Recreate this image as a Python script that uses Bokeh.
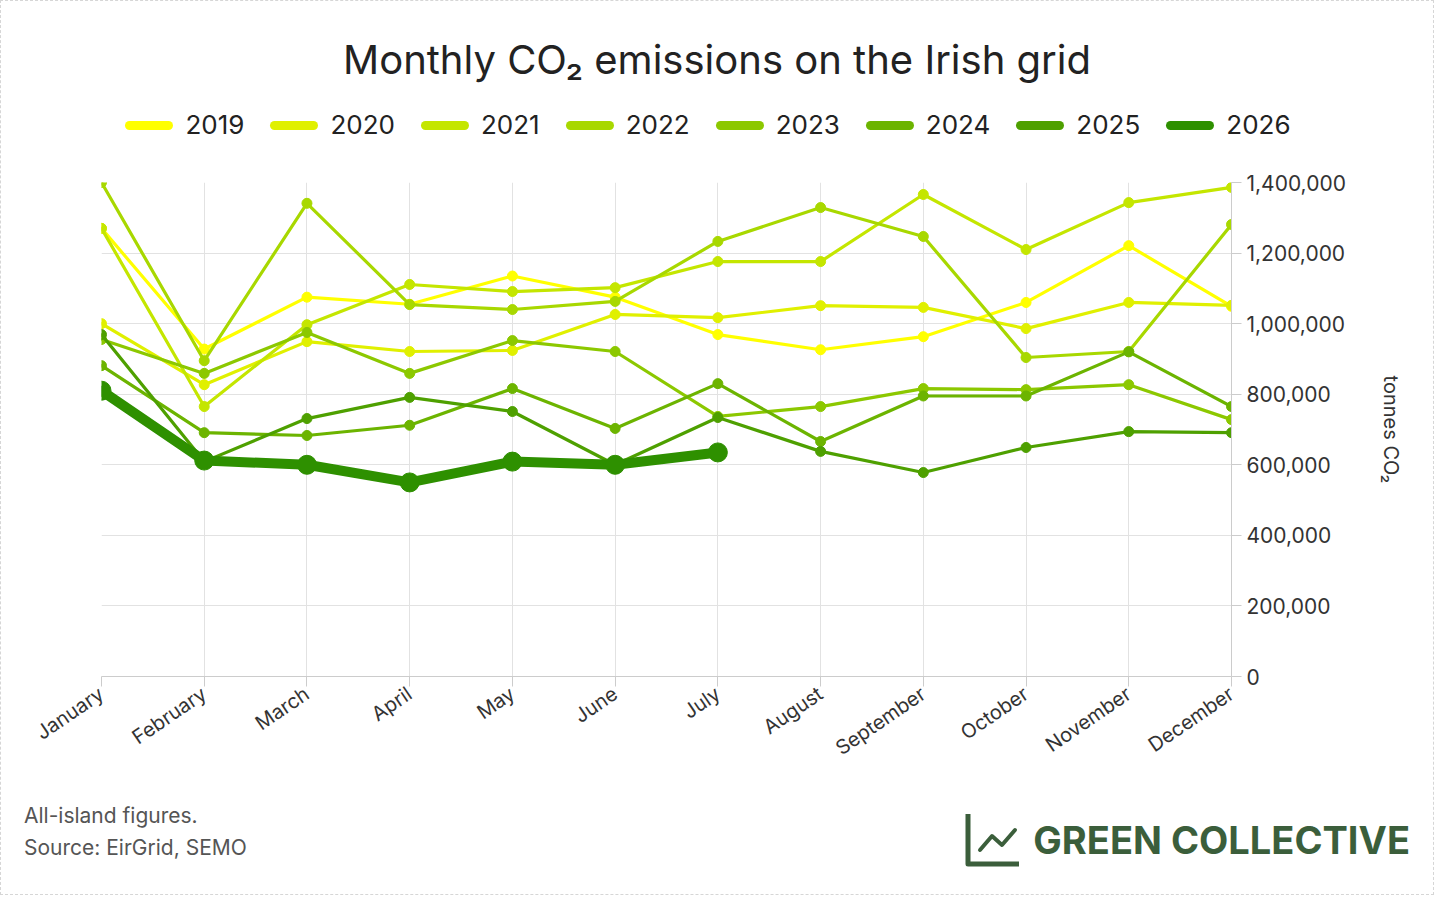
from bokeh.plotting import figure
from bokeh.models import Range1d, FixedTicker, NumeralTickFormatter, Div
from bokeh.layouts import column
from bokeh.embed import file_html
from bokeh.resources import INLINE

months = ["January", "February", "March", "April", "May", "June", "July",
          "August", "September", "October", "November", "December"]
years = ["2019", "2020", "2021", "2022", "2023", "2024", "2025", "2026"]
colors = ["#ffff00", "#e0f000", "#c4e600", "#a8d800", "#8cc800", "#6cb400", "#4ea000", "#2e9000"]

y2019 = [1270000, 928000, 1075000, 1055000, 1135000, 1075000, 969000, 926000, 963000, 1060000, 1221000, 1049000]
y2020 = [1000000, 827000, 949000, 921000, 924000, 1026000, 1017000, 1051000, 1046000, 986000, 1060000, 1052000]
y2021 = [1270000, 765000, 997000, 1111000, 1091000, 1102000, 1176000, 1176000, 1366000, 1210000, 1343000, 1386000]
y2022 = [1400000, 895000, 1341000, 1054000, 1040000, 1063000, 1233000, 1329000, 1247000, 904000, 921000, 1281000]
y2023 = [955000, 859000, 975000, 859000, 952000, 921000, 737000, 765000, 816000, 813000, 827000, 728000]
y2024 = [881000, 691000, 683000, 712000, 816000, 703000, 830000, 666000, 795000, 795000, 920000, 765000]
y2025 = [969000, 609000, 731000, 791000, 751000, 600000, 734000, 638000, 578000, 649000, 694000, 691000]
y2026 = [810000, 612000, 600000, 550000, 609000, 600000, 635000]
series = [y2019, y2020, y2021, y2022, y2023, y2024, y2025, y2026]

W = 1422
HEAD_H = 150
FOOT_H = 112
FL, FR, FT, FB = 100, 1230, 171 - HEAD_H, 665 - HEAD_H
BOTTOM = 93
YMAX = 1400000
FONT = "Inter"

legend_html = "".join(
    f'<div style="display:flex;align-items:center;margin:0 13px">'
    f'<span style="display:inline-block;width:48px;height:9px;border-radius:5px;background:{c};'
    f'margin-right:12px"></span><span>{yr}</span></div>'
    for yr, c in zip(years, colors))
header = Div(
    text=(f'<div style="width:{W}px;text-align:center;font-family:{FONT};color:#222">'
          '<div style="font-size:40px;line-height:40px;padding-top:34px">'
          'Monthly CO₂ emissions on the Irish grid</div>'
          '<div style="display:flex;justify-content:center;font-size:26px;line-height:30px;'
          'margin-top:30px;padding-right:18px">' + legend_html + '</div></div>'),
    width=W, height=HEAD_H)

p = figure(frame_width=FR - FL, frame_height=FB - FT, output_backend="svg", toolbar_location=None,
           x_range=Range1d(0, 11), y_range=Range1d(0, YMAX), y_axis_location="right",
           min_border_left=FL, min_border_right=W - FR, min_border_top=FT,
           min_border_bottom=BOTTOM)
p.outline_line_color = None
p.border_fill_color = "white"

xs = list(range(12))
for yr, c, vals in zip(years, colors, series):
    thick = yr == "2026"
    x = xs[:len(vals)]
    p.line(x, vals, line_color=c, line_width=10 if thick else 3.2, line_cap="round", line_join="round")
    p.scatter(x, vals, size=19 if thick else 10, fill_color=c, line_color=c)

p.xaxis.ticker = FixedTicker(ticks=xs)
p.xaxis.major_label_overrides = {i: m for i, m in enumerate(months)}
p.xaxis.major_label_orientation = 0.6
p.xaxis.major_label_text_font = FONT
p.xaxis.major_label_text_font_size = "20px"
p.xaxis.major_label_text_color = "#333"
p.xaxis.axis_line_color = "#cccccc"
p.xaxis.major_tick_line_color = "#cccccc"
p.xaxis.major_tick_out = 10
p.xaxis.major_tick_in = 0
p.xaxis.minor_tick_line_color = None

p.yaxis.ticker = FixedTicker(ticks=list(range(0, 1400001, 200000)))
p.yaxis.formatter = NumeralTickFormatter(format="0,0")
p.yaxis.major_label_text_font = FONT
p.yaxis.major_label_text_font_size = "21px"
p.yaxis.major_label_text_color = "#333"
p.yaxis.axis_line_color = "#cccccc"
p.yaxis.major_tick_line_color = "#cccccc"
p.yaxis.major_tick_out = 10
p.yaxis.major_tick_in = 0
p.yaxis.minor_tick_line_color = None
p.yaxis.axis_label = "tonnes CO₂"
p.yaxis.axis_label_text_font = FONT
p.yaxis.axis_label_text_font_style = "normal"
p.yaxis.axis_label_text_font_size = "20px"
p.yaxis.axis_label_text_color = "#333"
p.yaxis.axis_label_standoff = 30

p.xgrid.grid_line_color = "#e2e2e2"
p.ygrid.grid_line_color = "#e2e2e2"

green = "#3b5e3b"
icon = ('<svg width="58" height="56" viewBox="0 0 58 56" style="margin-right:12px">'
        f'<polyline points="5,2 5,52 56,52" fill="none" stroke="{green}" stroke-width="5" '
        'stroke-linejoin="round"/>'
        f'<polyline points="17,38 29,24 39,33 52,18" fill="none" stroke="{green}" '
        'stroke-width="4" stroke-linejoin="round" stroke-linecap="round"/></svg>')
footer = Div(
    text=('<div style="display:flex;justify-content:space-between;align-items:flex-start;'
          f'width:{W - 8}px;padding:0 10px 0 18px">'
          f'<div style="font-family:{FONT};font-size:21px;color:#555;line-height:32px;'
          'padding-top:23px">All-island figures.<br>Source: EirGrid, SEMO</div>'
          '<div style="display:flex;align-items:center;padding-top:35px">' + icon +
          f'<span style="font-family:{FONT};font-size:38px;font-weight:bold;color:{green}">'
          'GREEN COLLECTIVE</span></div></div>'),
    width=W, height=FOOT_H)

layout = column(header, p, footer, spacing=0, styles={"border": "1px dashed #d6d6d6"})
open("out.html", "w").write(file_html(layout, INLINE))
